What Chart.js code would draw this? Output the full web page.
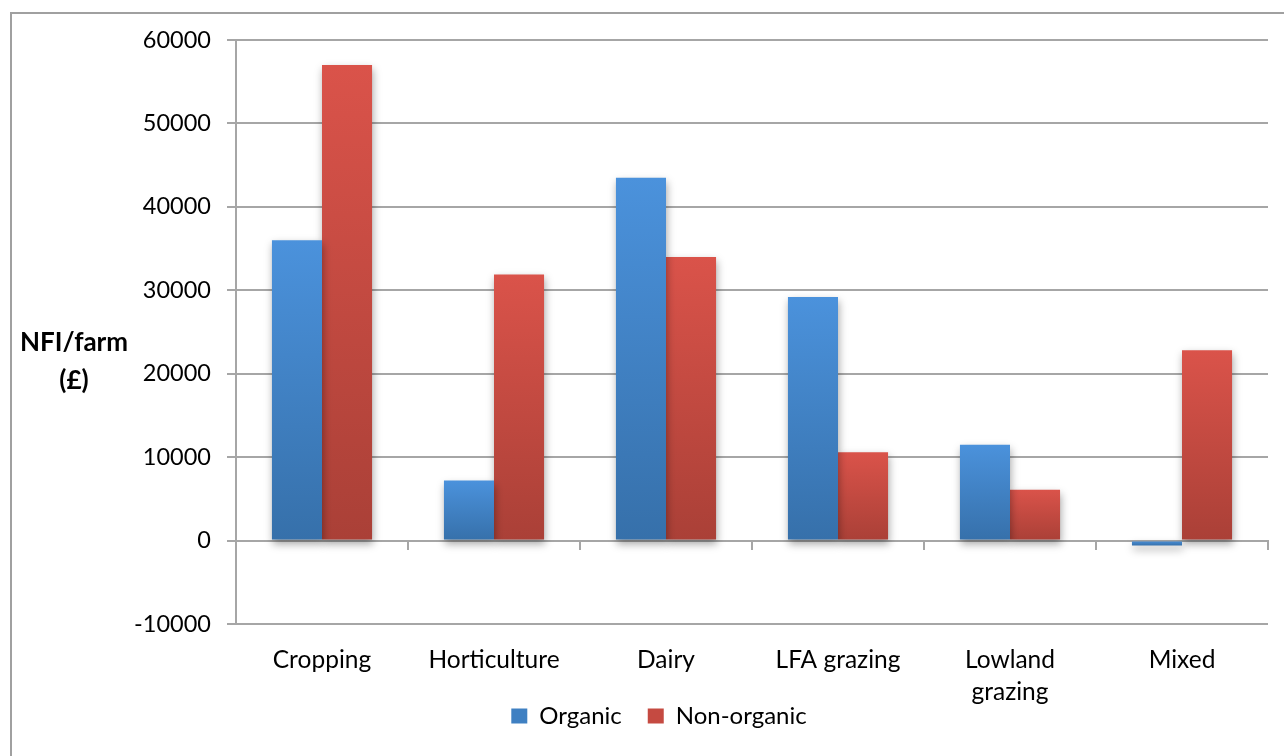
<!DOCTYPE html>
<html>
<head>
<meta charset="utf-8">
<script src="https://cdn.jsdelivr.net/npm/chart.js@4/dist/chart.umd.min.js"></script>
<style>
  html, body { margin: 0; padding: 0; background: #ffffff; }
  #wrap { position: relative; width: 1284px; height: 756px; }
</style>
</head>
<body>
<div id="wrap"><canvas id="c"></canvas></div>
<script>
const categories = ['Cropping', 'Horticulture', 'Dairy', 'LFA grazing', ['Lowland', 'grazing'], 'Mixed'];
const organic = [36000, 7200, 43500, 29200, 11500, -600];
const nonOrganic = [57000, 31900, 34000, 10600, 6100, 22800];
const seriesNames = ['Organic', 'Non-organic'];
const yTitleLines = ['NFI/farm', '(£)'];
const yMin = -10000, yMax = 60000, yStep = 10000;

const FONT = 'Lato, "Open Sans", sans-serif';
const GRID = '#a6a6a6';
const LEGEND_PAD = 26;
const LEGEND_FONT = 24;

function barGradient(top, bottom) {
  return function (ctx) {
    const chart = ctx.chart;
    const ys = chart.scales && chart.scales.y;
    if (!chart.chartArea || !ys || ctx.raw === undefined) return top;
    const p1 = ys.getPixelForValue(ctx.raw);
    const p0 = ys.getPixelForValue(0);
    const a = Math.min(p0, p1), b = Math.max(p0, p1);
    if (b - a < 1) return top;
    const g = chart.ctx.createLinearGradient(0, a, 0, b);
    g.addColorStop(0, top);
    g.addColorStop(1, bottom);
    return g;
  };
}

const framePlugin = {
  id: 'frame',
  beforeDraw(chart) {
    const c = chart.ctx;
    c.save();
    c.strokeStyle = '#a0a0a0';
    c.lineWidth = 2;
    c.strokeRect(11, 13, 1400, 900);
    c.restore();
  }
};

const shadowPlugin = {
  id: 'barShadow',
  beforeDatasetDraw(chart) {
    const c = chart.ctx;
    c.save();
    c.shadowColor = 'rgba(0,0,0,0.35)';
    c.shadowBlur = 8;
    c.shadowOffsetX = 1;
    c.shadowOffsetY = 4;
  },
  afterDatasetDraw(chart) {
    chart.ctx.restore();
  }
};

// place the legend so its text line sits at y = 716, centred near x = 659
const legendPlace = {
  id: 'legendPlace',
  afterLayout(chart) {
    const lg = chart.legend;
    if (!lg) return;
    const h = lg.height;
    const top = 716 - LEGEND_PAD - LEGEND_FONT / 2;
    lg.top = top;
    lg.bottom = top + h;
    lg.left += 25;
    lg.right += 25;
  }
};

const yTitlePlugin = {
  id: 'yTitle',
  afterDraw(chart) {
    const c = chart.ctx;
    c.save();
    c.fillStyle = '#000';
    c.font = 'bold 26px ' + FONT;
    c.textAlign = 'center';
    c.textBaseline = 'middle';
    const cx = 74, cy = 362, lh = 38;
    yTitleLines.forEach((t, i) => {
      c.fillText(t, cx, cy + (i - (yTitleLines.length - 1) / 2) * lh);
    });
    c.restore();
  }
};

new Chart(document.getElementById('c'), {
  type: 'bar',
  data: {
    labels: categories,
    datasets: [
      {
        label: seriesNames[0],
        data: organic,
        backgroundColor: barGradient('#4b92dc', '#3670aa'),
        categoryPercentage: 0.582,
        barPercentage: 1.0
      },
      {
        label: seriesNames[1],
        data: nonOrganic,
        backgroundColor: barGradient('#da534a', '#aa4037'),
        categoryPercentage: 0.582,
        barPercentage: 1.0
      }
    ]
  },
  options: {
    responsive: true,
    maintainAspectRatio: false,
    animation: false,
    layout: { padding: { left: 0, right: 16, top: 40, bottom: -16 } },
    scales: {
      x: {
        type: 'category',
        offset: true,
        grid: { display: false, drawTicks: false },
        border: { display: false },
        ticks: {
          color: '#000',
          font: { family: FONT, size: 24.5, lineHeight: 1.3 },
          padding: 20,
          maxRotation: 0,
          autoSkip: false
        },
        afterFit(scale) { scale.height = 88; }
      },
      x2: {
        type: 'category',
        labels: categories,
        position: { y: 0 },
        offset: true,
        grid: {
          offset: true,
          drawOnChartArea: false,
          drawTicks: true,
          tickLength: 8,
          color: GRID,
          lineWidth: 2
        },
        border: { display: true, color: GRID, width: 2 },
        ticks: { display: false }
      },
      y: {
        min: yMin,
        max: yMax,
        ticks: {
          stepSize: yStep,
          color: '#000',
          font: { family: FONT, size: 23.5 },
          padding: 16,
          callback: (v) => String(v)
        },
        grid: {
          color: GRID,
          lineWidth: 2,
          tickLength: 9,
          drawTicks: true
        },
        border: { display: true, color: GRID, width: 2 },
        afterFit(scale) { scale.width = 236; }
      }
    },
    plugins: {
      legend: {
        position: 'bottom',
        labels: {
          color: '#000',
          font: { family: FONT, size: LEGEND_FONT },
          boxWidth: 16,
          boxHeight: 15,
          padding: LEGEND_PAD,
          generateLabels(chart) {
            const cols = ['#3f80c2', '#c54a41'];
            return chart.data.datasets.map((ds, i) => ({
              text: ds.label,
              fillStyle: cols[i],
              strokeStyle: cols[i],
              lineWidth: 0,
              hidden: false,
              datasetIndex: i,
              fontColor: '#000'
            }));
          }
        }
      },
      tooltip: { enabled: false }
    }
  },
  plugins: [framePlugin, shadowPlugin, yTitlePlugin, legendPlace]
});
</script>
</body>
</html>
